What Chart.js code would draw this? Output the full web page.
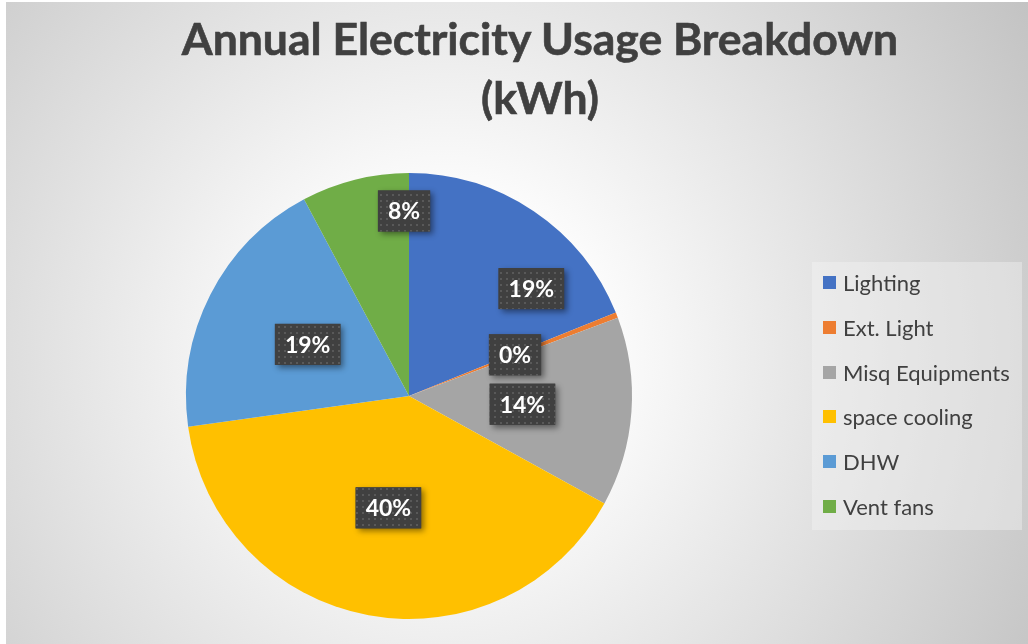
<!DOCTYPE html>
<html>
<head>
<meta charset="utf-8">
<script src="https://cdn.jsdelivr.net/npm/chart.js@4.4.0/dist/chart.umd.min.js"></script>
<style>
    html, body { margin: 0; padding: 0; background: #ffffff; }
    body { width: 1028px; height: 644px; overflow: hidden; }
    .wrap {
        position: relative;
        width: 1028px;
        height: 644px;
    }
    .bg {
        position: absolute;
        left: 6px;
        top: 2px;
        right: 0;
        bottom: 0;
        background: radial-gradient(circle farthest-corner at 43% 55%, #ffffff 0%, #fbfbfb 25%, #c3c3c3 100%);
    }
    #chart { position: absolute; left: 0; top: 0; }
    .title {
        position: absolute;
        left: 90px;
        width: 900px;
        top: 8px;
        text-align: center;
        font-family: Lato, "Open Sans", sans-serif;
        font-weight: bold;
        font-size: 44.5px;
        line-height: 59px;
        color: #404040;
        -webkit-text-stroke: 0.6px #404040;
    }
    .legend {
        position: absolute;
        left: 812px;
        top: 262px;
        width: 210px;
        height: 268px;
        background: rgba(245, 245, 245, 0.4);
    }
    .legend div {
        position: absolute;
        left: 31px;
        font-family: Lato, "Open Sans", sans-serif;
        font-size: 22px;
        line-height: 26px;
        color: #404040;
        white-space: nowrap;
    }
    .legend span {
        position: absolute;
        left: -20px;
        top: 6px;
        width: 13px;
        height: 13px;
    }
</style>
</head>
<body>
<div class="wrap">
    <div class="bg"></div>
    <canvas id="chart" width="1028" height="644"></canvas>
    <div class="title">Annual Electricity Usage Breakdown<br>(kWh)</div>
    <div class="legend" id="legend"></div>
</div>
<script>
const categories = ['Lighting', 'Ext. Light', 'Misq Equipments', 'space cooling', 'DHW', 'Vent fans'];
const usage = [18900, 400, 13700, 39800, 19400, 7800];
const colors = ['#4472C4', '#ED7D31', '#A5A5A5', '#FFC000', '#5B9BD5', '#70AD47'];

// a few labels are nudged the way the original placed them
const labelShift = { 0: { r: 0.73, a: 14.7 }, 5: { r: 0.83, a: 12.5 } };

const legend = document.getElementById('legend');
categories.forEach((name, i) => {
    const item = document.createElement('div');
    item.style.top = (8 + i * 44.8) + 'px';
    item.innerHTML = `<span style="background:${colors[i]}"></span>${name}`;
    legend.appendChild(item);
});

function dotPattern(ctx) {
    const c = document.createElement('canvas');
    c.width = 6;
    c.height = 6;
    const p = c.getContext('2d');
    p.fillStyle = '#404040';
    p.fillRect(0, 0, 6, 6);
    p.fillStyle = '#595959';
    p.fillRect(2, 2, 2, 2);
    return ctx.createPattern(c, 'repeat');
}

const labelPlugin = {
    id: 'pctLabels',
    afterDatasetsDraw(chart) {
        const ctx = chart.ctx;
        const meta = chart.getDatasetMeta(0);
        const data = chart.data.datasets[0].data;
        const total = data.reduce((a, b) => a + b, 0);
        const pattern = dotPattern(ctx);
        ctx.save();
        ctx.font = 'bold 23px Lato, "Open Sans", sans-serif';
        ctx.textAlign = 'center';
        ctx.textBaseline = 'middle';
        meta.data.forEach((arc, i) => {
            const p = arc.getProps(['x', 'y', 'startAngle', 'endAngle', 'outerRadius'], true);
            const shift = labelShift[i] || { r: 0.51, a: 0 };
            const mid = (p.startAngle + p.endAngle) / 2 + shift.a * Math.PI / 180;
            const x = p.x + Math.cos(mid) * p.outerRadius * shift.r;
            const y = p.y + Math.sin(mid) * p.outerRadius * shift.r;
            const text = Math.round(data[i] / total * 100) + '%';
            const w = ctx.measureText(text).width + 20;
            const h = 41;
            ctx.save();
            ctx.shadowColor = 'rgba(0,0,0,0.45)';
            ctx.shadowBlur = 6;
            ctx.shadowOffsetX = 3;
            ctx.shadowOffsetY = 3;
            ctx.fillStyle = '#404040';
            ctx.fillRect(x - w / 2, y - h / 2, w, h);
            ctx.restore();
            ctx.fillStyle = pattern;
            ctx.fillRect(x - w / 2, y - h / 2, w, h);
            ctx.fillStyle = '#ffffff';
            ctx.fillText(text, x, y + 1);
        });
        ctx.restore();
    }
};

new Chart(document.getElementById('chart'), {
    type: 'pie',
    data: {
        labels: categories,
        datasets: [{
            data: usage,
            backgroundColor: colors,
            borderWidth: 0
        }]
    },
    options: {
        responsive: false,
        animation: false,
        layout: {
            padding: { left: 186, right: 396, top: 173, bottom: 25 }
        },
        plugins: {
            legend: { display: false },
            title: { display: false },
            tooltip: { enabled: false }
        }
    },
    plugins: [labelPlugin]
});
</script>
</body>
</html>
